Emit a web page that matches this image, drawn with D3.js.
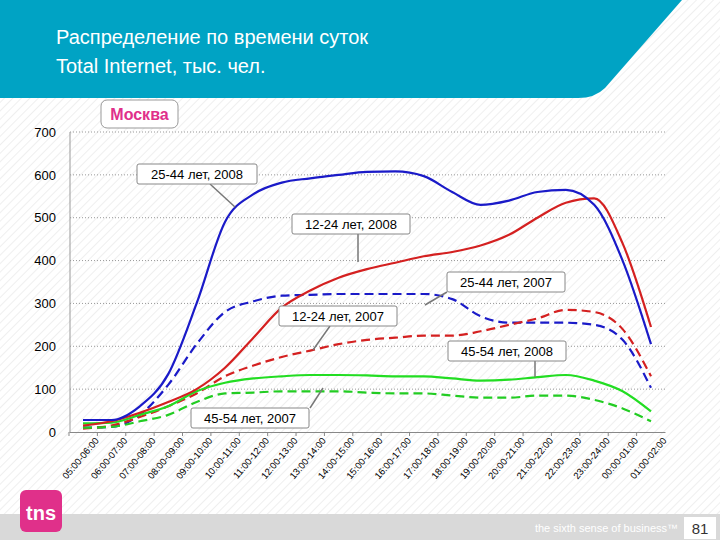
<!DOCTYPE html><html><head><meta charset="utf-8"><script src="https://cdn.jsdelivr.net/npm/d3@7"></script>
<style>body{margin:0}svg{font-family:Arial,"Liberation Sans",sans-serif}</style></head><body><svg id="c" width="720" height="540"></svg>
<script>
const categories=["05:00-06:00","06:00-07:00","07:00-08:00","08:00-09:00","09:00-10:00","10:00-11:00","11:00-12:00","12:00-13:00","13:00-14:00","14:00-15:00","15:00-16:00","16:00-17:00","17:00-18:00","18:00-19:00","19:00-20:00","20:00-21:00","21:00-22:00","22:00-23:00","23:00-24:00","00:00-01:00","01:00-02:00"];
const s2544_2008=[28,28,60,135,300,490,555,582,592,600,607,608,597,560,530,540,560,565,530,400,205];
const s1224_2008=[15,25,45,70,100,150,220,290,330,360,380,395,410,420,435,460,500,535,545,440,245];
const s2544_2007=[10,12,40,110,205,280,305,318,320,322,322,322,322,310,270,255,255,255,250,215,103];
const s1224_2007=[8,15,35,60,90,130,155,175,190,205,215,220,225,225,235,250,265,285,280,240,130];
const s4554_2008=[20,22,40,60,95,115,125,130,133,133,132,130,130,125,120,122,128,133,120,95,48];
const s4554_2007=[10,12,25,40,70,90,92,95,95,95,92,90,90,85,80,80,85,85,75,55,25];
const yTicks=[0,100,200,300,400,500,600,700];
const svg=d3.select("#c");
const defs=svg.append("defs");
const p=defs.append("pattern").attr("id","st").attr("width",6).attr("height",6).attr("patternUnits","userSpaceOnUse").attr("patternTransform","rotate(45)");
p.append("rect").attr("width",6).attr("height",6).attr("fill","#fff");
p.append("line").attr("x1",0).attr("y1",0).attr("x2",0).attr("y2",6).attr("stroke","#efefef").attr("stroke-width",2);
svg.append("rect").attr("width",720).attr("height",540).attr("fill","url(#st)");
svg.append("path").attr("d","M0,0H682L605,88Q595,98 578,98H0Z").attr("fill","#00A3C4");
svg.append("text").attr("x",56).attr("y",44).attr("fill","#fff").attr("font-size",20).text("Распределение по времени суток");
svg.append("text").attr("x",56).attr("y",73).attr("fill","#fff").attr("font-size",20).text("Total Internet, тыс. чел.");
svg.append("rect").attr("x",0).attr("y",514).attr("width",720).attr("height",26).attr("fill","#d9d9d9");
svg.append("rect").attr("x",20).attr("y",490).attr("width",42).attr("height",42).attr("rx",6).attr("fill","#e0308a");
svg.append("text").attr("x",41).attr("y",520).attr("text-anchor","middle").attr("fill","#fff").attr("font-size",20).attr("font-weight","bold").text("tns");
svg.append("text").attr("x",678).attr("y",532).attr("text-anchor","end").attr("fill","#fff").attr("font-size",11).text("the sixth sense of business™");
svg.append("rect").attr("x",684).attr("y",517).attr("width",32).attr("height",22).attr("fill","#fff");
svg.append("text").attr("x",700).attr("y",534).attr("text-anchor","middle").attr("font-size",15).attr("fill","#333").text("81");

const x=d3.scalePoint().domain(categories).range([83,651]);
const y=d3.scaleLinear().domain([0,700]).range([432,132]);
const g=svg.append("g");
g.selectAll(".gl").data(yTicks.slice(1)).join("line").attr("x1",70).attr("x2",665).attr("y1",d=>y(d)).attr("y2",d=>y(d)).attr("stroke","#999").attr("stroke-dasharray","1,2");
g.append("line").attr("x1",70).attr("x2",70).attr("y1",132).attr("y2",432).attr("stroke","#999");
const ya=g.append("g").attr("transform","translate(56,0)").call(d3.axisLeft(y).tickValues(yTicks).tickSize(0).tickPadding(0));
ya.select(".domain").remove();ya.selectAll("text").attr("font-size",13).attr("fill","#000").attr("font-family","Arial");
const xa=g.append("g").attr("transform","translate(0,432)").call(d3.axisBottom(d3.scaleBand().domain(categories).range([69,665])).tickSize(4).tickSizeOuter(0));
xa.select(".domain").attr("stroke","#888");
xa.selectAll("line").attr("stroke","#888").attr("transform","translate(-14.2,0)");
xa.selectAll("text").attr("font-size",9.5).attr("fill","#000").attr("text-anchor","end").attr("transform","translate(8,2) rotate(-50)").attr("dy","0.4em").attr("dx","0");
const line=d3.line().x((d,i)=>x(categories[i])).y(d=>y(d)).curve(d3.curveMonotoneX);
const series=[[s2544_2007,"#1a1ac8",true],[s1224_2007,"#d42020",true],[s4554_2007,"#22cc22",true],[s4554_2008,"#22dd22",false],[s1224_2008,"#d42020",false],[s2544_2008,"#1a1ac8",false]];
series.forEach(([d,c,dash])=>g.append("path").attr("d",line(d)).attr("fill","none").attr("stroke",c).attr("stroke-width",2.2).attr("stroke-dasharray",dash?"9,5":null));
function co(txt,bx,by,w,lx1,ly1,px,py){
  g.append("line").attr("x1",lx1).attr("y1",ly1).attr("x2",px).attr("y2",py).attr("stroke","#777").attr("stroke-width",1.5);
  g.append("rect").attr("x",bx).attr("y",by).attr("width",w).attr("height",20).attr("fill","#fff").attr("stroke","#888").attr("rx",2);
  g.append("text").attr("x",bx+w/2).attr("y",by+15).attr("text-anchor","middle").attr("font-size",13).text(txt);
}
co("25-44 лет, 2008",137,164,120,210,184,235,207);
co("12-24 лет, 2008",292,214,118,358,234,358,262);
co("25-44 лет, 2007",447,272,118,447,292,425,305);
co("12-24 лет, 2007",279,306,118,330,326,313,350);
co("45-54 лет, 2008",448,341,118,535,361,535,377);
co("45-54 лет, 2007",191,408,118,310,408,323,388);
g.append("rect").attr("x",101).attr("y",100).attr("width",77).attr("height",28).attr("rx",6).attr("fill","#fff").attr("stroke","#999");
g.append("text").attr("x",139.5).attr("y",120).attr("text-anchor","middle").attr("font-size",16).attr("font-weight","bold").attr("fill","#e0308a").text("Москва");
</script></body></html>
